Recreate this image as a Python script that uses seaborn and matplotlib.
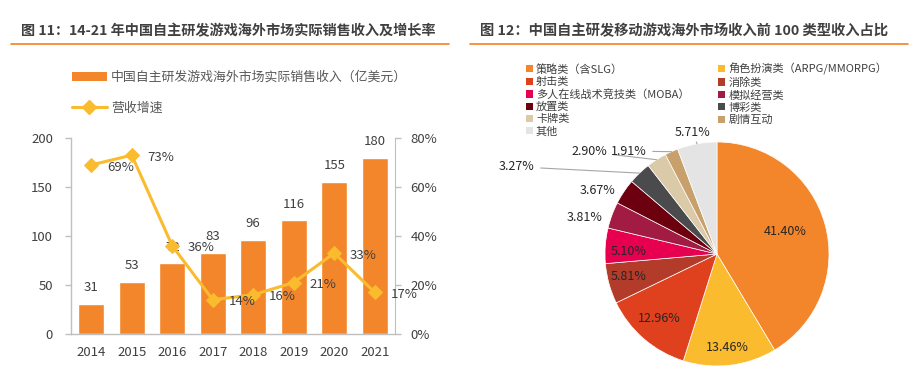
import numpy as np
import pandas as pd
import matplotlib
matplotlib.use('Agg')
import matplotlib.pyplot as plt
from matplotlib.lines import Line2D
from matplotlib.patches import Patch
import seaborn as sns

# ---------------- data ----------------
years = ['2014', '2015', '2016', '2017', '2018', '2019', '2020', '2021']
revenue = [31, 53, 72, 83, 96, 116, 155, 180]
growth = [69, 73, 36, 14, 16, 21, 33, 17]
bar_name = '中国自主研发游戏海外市场实际销售收入（亿美元）'
line_name = '营收增速'
left_title = '图 11：14-21 年中国自主研发游戏海外市场实际销售收入及增长率'
right_title = '图 12：中国自主研发移动游戏海外市场收入前 100 类型收入占比'

pie_cats = ['策略类（含SLG）', '角色扮演类（ARPG/MMORPG）', '射击类', '消除类',
            '多人在线战术竞技类（MOBA）', '模拟经营类', '放置类', '博彩类',
            '卡牌类', '剧情互动', '其他']
pie_vals = [41.40, 13.46, 12.96, 5.81, 5.10, 3.81, 3.67, 3.27, 2.90, 1.91, 5.71]
pie_colors = ['#F3862A', '#FBBB2E', '#DF401D', '#B23B2A', '#E6004F', '#A11B42',
              '#6C000F', '#4B4B4D', '#DBCAA8', '#C8A06B', '#E4E4E4']
# label placement (radius factor, angle shift in deg, leader line?)
label_r = [0.64, 0.84, 0.77, 0.82, 0.79, 1.23, 1.21, 1.95, 1.46, 1.21, 1.11]
label_dth = [2.5, -0.7, -0.9, -0.9, 2.9, 4.8, 5.8, 22.7, 18.7, 16.6, 1.1]
label_leader = [False, False, False, False, False, False, False, True, True, True, True]

# ---------------- style ----------------
sns.set_style('white')
plt.rcParams['font.family'] = ['Noto Sans CJK SC', 'DejaVu Sans']
TXT = '#404040'
AX = '#BFBFBF'
BAR = '#F3862A'
LINE = '#FBBB2E'

W, H = 924, 367
fig = plt.figure(figsize=(W / 100, H / 100), dpi=100)


def fx(x):
    return x / W


def fy(y):
    return 1 - y / H


# titles with orange underline
fig.text(fx(21), fy(31), left_title, fontsize=10.2, fontweight='bold', color=TXT, va='center')
fig.add_artist(Line2D([fx(11), fx(449)], [fy(43.5)] * 2, color='#F58220', lw=1.2))
fig.text(fx(480), fy(31), right_title, fontsize=10.3, fontweight='bold', color=TXT, va='center')
fig.add_artist(Line2D([fx(470), fx(908)], [fy(43.5)] * 2, color='#F58220', lw=1.2))

# ---------------- left: bar + line ----------------
ax = fig.add_axes([fx(71), fy(334), 324 / W, 196 / H])
df = pd.DataFrame({'year': years, 'revenue': revenue})
sns.barplot(data=df, x='year', y='revenue', color=BAR, saturation=1, width=0.64, ax=ax)
ax.set_xlim(-0.5, len(years) - 0.5)
ax.set_ylim(0, 200)
ax.set_yticks([0, 50, 100, 150, 200])
ax.set_xlabel('')
ax.set_ylabel('')
ax.set_xticks(np.arange(-0.5, len(years), 1), minor=True)
ax.tick_params(axis='x', which='major', length=0, labelsize=9.5, colors=TXT, pad=9)
ax.tick_params(axis='x', which='minor', length=4, color=AX, width=1, direction='out')
ax.tick_params(axis='y', which='major', length=4, color=AX, width=1, direction='out',
               labelsize=9.5, labelcolor=TXT, pad=9, left=True)
for s in ['top', 'right']:
    ax.spines[s].set_visible(False)
for s in ['left', 'bottom']:
    ax.spines[s].set_color(AX)
    ax.spines[s].set_linewidth(1)
ax.bar_label(ax.containers[0], fontsize=9.5, color=TXT, padding=7)

ax2 = ax.twinx()
df2 = pd.DataFrame({'pos': np.arange(len(years)), 'growth': growth})
sns.lineplot(data=df2, x='pos', y='growth', color=LINE, lw=2.2, marker='D', markersize=7.5,
             markeredgecolor=LINE, ax=ax2, legend=False)
ax2.set_xlim(-0.5, len(years) - 0.5)
ax2.set_ylim(0, 80)
ax2.set_yticks([0, 20, 40, 60, 80])
ax2.set_yticklabels([f'{v}%' for v in [0, 20, 40, 60, 80]])
ax2.set_ylabel('')
ax2.set_xlabel('')
ax2.tick_params(axis='y', length=4, color=AX, width=1, direction='out',
                labelsize=9.5, labelcolor=TXT, pad=7, right=True)
for s in ['top', 'left', 'bottom']:
    ax2.spines[s].set_visible(False)
ax2.spines['right'].set_color(AX)
for i, g in enumerate(growth):
    ax2.annotate(f'{g}%', (i, g), xytext=(21, -1.5), textcoords='offset points',
                 ha='center', va='center', fontsize=9.5, color=TXT)

handles = [Patch(facecolor=BAR, edgecolor='none'),
           Line2D([], [], color=LINE, lw=2.2, marker='D', markersize=7.5)]
fig.legend(handles, [bar_name, line_name], loc='upper left',
           bbox_to_anchor=(fx(72), fy(71)), frameon=False, fontsize=9.3,
           labelcolor='#595959', handlelength=2.7, handleheight=0.65,
           handletextpad=0.3, labelspacing=1.35, borderpad=0, borderaxespad=0)

# ---------------- right: pie ----------------
R = 112
pax = fig.add_axes([fx(717 - R), fy(254 + R), 2 * R / W, 2 * R / H])
wedges, _ = pax.pie(pie_vals, colors=pie_colors, startangle=90, counterclock=False,
                    wedgeprops=dict(edgecolor='white', linewidth=0.5))
pax.set_xlim(-1, 1)
pax.set_ylim(-1, 1)
pax.set_aspect('equal')
pax.axis('off')
for w, v, r, dth, lead in zip(wedges, pie_vals, label_r, label_dth, label_leader):
    mid = np.deg2rad((w.theta1 + w.theta2) / 2)
    ang = mid + np.deg2rad(dth)
    tx, ty = r * np.cos(ang), r * np.sin(ang)
    if lead:
        pax.annotate(f'{v:.2f}%', xy=(np.cos(mid), np.sin(mid)), xytext=(tx, ty),
                     ha='center', va='center', fontsize=9, color='#262626',
                     arrowprops=dict(arrowstyle='-', color='#A6A6A6', lw=0.8,
                                     shrinkA=2, shrinkB=0), annotation_clip=False)
    else:
        pax.text(tx, ty, f'{v:.2f}%', ha='center', va='center', fontsize=9, color='#262626')

# legend laid out row-wise in two columns (matplotlib fills column by column)
order = list(range(0, len(pie_cats), 2)) + list(range(1, len(pie_cats), 2))
pie_handles = [Patch(facecolor=pie_colors[i], edgecolor='none') for i in order]
pie_labels = [pie_cats[i] for i in order]
leg = fig.legend(pie_handles, pie_labels, loc='upper left', ncol=2,
                 bbox_to_anchor=(fx(526), fy(63)), frameon=False, fontsize=8,
                 labelcolor=TXT, handlelength=0.6, handleheight=0.6, handletextpad=0.3,
                 labelspacing=0.19, columnspacing=2.6, borderpad=0, borderaxespad=0)

fig.savefig('out.png', dpi=100)
